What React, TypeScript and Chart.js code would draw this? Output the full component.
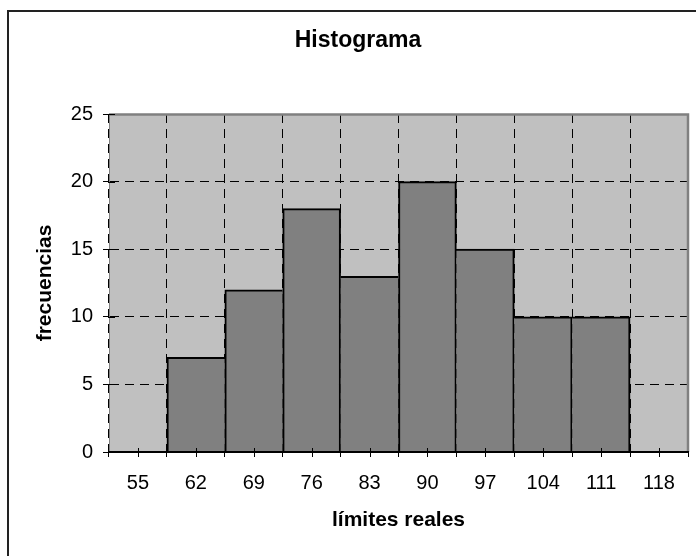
import React, { useEffect, useRef } from "react";
import { Chart, registerables } from "chart.js";

Chart.register(...registerables);

const categories = ["55", "62", "69", "76", "83", "90", "97", "104", "111", "118"];
const frequencies: (number | null)[] = [null, 7, 12, 18, 13, 20, 15, 10, 10, null];
const yTicks = [0, 5, 10, 15, 20, 25];
const titleText = "Histograma";
const xTitleText = "límites reales";
const yTitleText = "frecuencias";

const FONT = "'Liberation Sans', Arial, Helvetica, sans-serif";

const framePlugin = {
  id: "frame",
  beforeDraw(chart: any) {
    const { ctx, chartArea: a } = chart;
    ctx.save();
    ctx.fillStyle = "#ffffff";
    ctx.fillRect(0, 0, chart.width, chart.height);
    ctx.fillStyle = "#c0c0c0";
    ctx.fillRect(a.left, a.top, a.right - a.left, a.bottom - a.top);
    ctx.strokeStyle = "#222222";
    ctx.lineWidth = 2;
    ctx.beginPath();
    ctx.moveTo(8, chart.height);
    ctx.lineTo(8, 11);
    ctx.lineTo(chart.width, 11);
    ctx.stroke();
    ctx.restore();
  },
  beforeDatasetsDraw(chart: any) {
    const { ctx, chartArea: a } = chart;
    ctx.save();
    ctx.strokeStyle = "#808080";
    ctx.lineWidth = 2.5;
    ctx.beginPath();
    ctx.moveTo(a.left, a.top + 0.5);
    ctx.lineTo(a.right, a.top + 0.5);
    ctx.lineTo(a.right, a.bottom);
    ctx.stroke();
    ctx.restore();
  },
  afterDraw(chart: any) {
    const { ctx, chartArea: a } = chart;
    const xs = chart.scales.x;
    const ys = chart.scales.y;
    ctx.save();
    ctx.strokeStyle = "#000000";
    ctx.lineWidth = 1;
    ctx.beginPath();
    categories.forEach((_, i) => {
      const px = Math.round(xs.getPixelForValue(i)) + 0.5;
      ctx.moveTo(px, a.bottom - 4);
      ctx.lineTo(px, a.bottom + 5);
    });
    yTicks.forEach((v) => {
      const py = Math.round(ys.getPixelForValue(v)) + 0.5;
      ctx.moveTo(a.left, py);
      ctx.lineTo(a.left + 6, py);
    });
    ctx.stroke();
    ctx.restore();
  },
};

export default function App() {
  const canvasRef = useRef<HTMLCanvasElement | null>(null);

  useEffect(() => {
    if (!canvasRef.current) return;
    const chart = new Chart(canvasRef.current, {
      type: "bar",
      data: {
        labels: categories,
        datasets: [
          {
            data: frequencies as any,
            backgroundColor: "#808080",
            borderColor: "#000000",
            borderWidth: ((c: any) => {
              const d = c.dataset.data;
              const i = c.dataIndex;
              const cur = d[i] ?? 0;
              const prev = d[i - 1];
              const next = d[i + 1];
              return {
                top: 2,
                bottom: 0,
                left: prev == null || prev < cur ? 2 : 0,
                right: next == null || next <= cur ? 2 : 0,
              };
            }) as any,
            borderSkipped: "start",
            barPercentage: 1,
            categoryPercentage: 1,
          },
        ],
      },
      options: {
        responsive: false,
        animation: false,
        layout: { padding: { left: 28, right: 8, top: 0, bottom: 0 } },
        plugins: {
          legend: { display: false },
          tooltip: { enabled: false },
          title: {
            display: true,
            text: titleText,
            color: "#000000",
            font: { family: FONT, size: 23, weight: "bold" },
            padding: { top: 26.7, bottom: 59.7 },
          },
        },
        scales: {
          x: {
            type: "category",
            offset: true,
            grid: {
              offset: true,
              color: "#000000",
              lineWidth: 1,
              tickLength: 5,
              tickColor: "#000000",
            },
            border: { display: true, color: "#000000", width: 2, dash: [9, 6], z: 1 },
            ticks: {
              color: "#000000",
              font: { family: FONT, size: 20 },
              padding: 14,
              autoSkip: false,
              maxRotation: 0,
              minRotation: 0,
            },
            title: {
              display: true,
              text: xTitleText,
              color: "#000000",
              font: { family: FONT, size: 21, weight: "bold" },
              padding: { top: 0, bottom: 23.4 },
            },
            afterFit(s: any) {
              s.height = 104;
            },
          },
          y: {
            min: yTicks[0],
            max: yTicks[yTicks.length - 1],
            ticks: {
              stepSize: yTicks[1] - yTicks[0],
              color: "#000000",
              font: { family: FONT, size: 20 },
              padding: 10,
            },
            grid: {
              color: "#000000",
              lineWidth: 1,
              tickLength: 6,
              tickColor: "#000000",
            },
            border: { display: true, color: "#808080", width: 1, dash: [9, 6] },
            title: {
              display: true,
              text: yTitleText,
              color: "#000000",
              font: { family: FONT, size: 21, weight: "bold" },
              padding: { top: 5.1, bottom: 0 },
            },
            afterFit(s: any) {
              s.width = 81;
            },
          },
        },
      },
      plugins: [framePlugin],
    });
    return () => chart.destroy();
  }, []);

  return (
    <div style={{ position: "absolute", left: 0, top: 0, width: 696, height: 556 }}>
      <canvas ref={canvasRef} width={696} height={556} style={{ display: "block" }} />
    </div>
  );
}
